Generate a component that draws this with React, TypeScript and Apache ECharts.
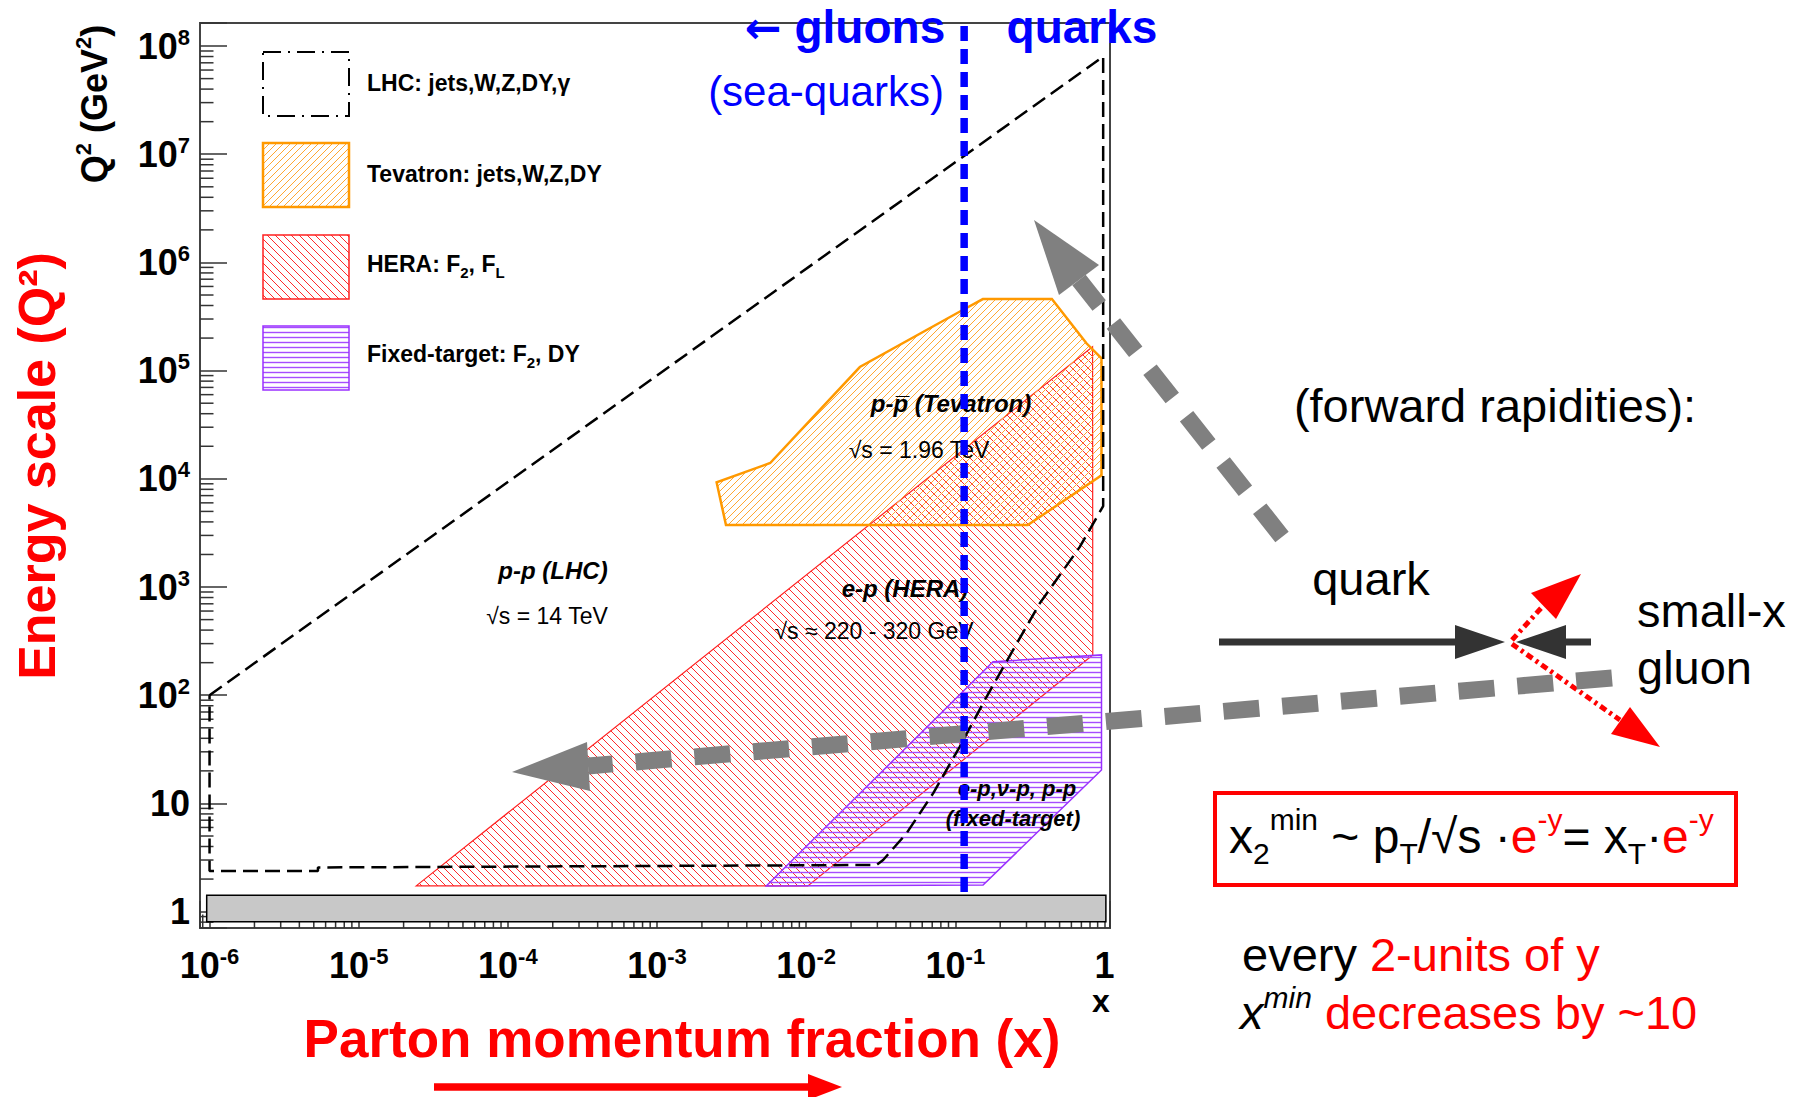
import React, { useEffect, useRef } from 'react';
import * as echarts from 'echarts';

const FONT = '"Liberation Sans", Arial, Helvetica, sans-serif';

// ---- axis extents (ROOT frame) ----
const X_MIN = 8.63e-7;
const X_MAX = 1.089;
const Q2_MIN = 0.706;
const Q2_MAX = 1.633e8;

// ---- kinematic regions (x, Q^2 in GeV^2) ----
const lhcX = [1e-6, 0.98, 0.98, 0.683, 0.368, 0.244, 0.162, 0.107, 0.071, 0.0471, 0.0328, 0.0296, 5.33e-6, 5.33e-6, 1e-6, 1e-6];
const lhcQ2 = [100, 8e7, 5600, 2350, 706, 262, 96.8, 33.4, 12.4, 5.3, 3.0, 2.7, 2.56, 2.37, 2.37, 100];

const tevX = [0.153, 0.444, 0.757, 0.955, 0.955, 0.306, 0.0029, 0.00251, 0.00574, 0.0229, 0.1067];
const tevQ2 = [4.59e5, 4.59e5, 1.79e5, 1.3e5, 1.08e4, 3740, 3740, 9270, 1.4e4, 1.08e5, 3.5e5];

const heraX = [2.43e-5, 0.832, 0.835, 0.01026];
const heraQ2 = [1.73, 1.66e5, 236, 1.73];

const ftX = [0.179, 0.955, 0.955, 0.1535, 0.0054];
const ftQ2 = [204, 236, 20.4, 1.76, 1.73];

const bandX = [9.57e-7, 1.022];
const bandQ2 = [0.807, 1.42];

const boundaryX = [0.1146, 0.1146];
const boundaryQ2 = [1.52, Q2_MAX];

// ---- minor tick positions (axis decoration) ----
const minorMultipliers = [2, 3, 4, 5, 6, 7, 8, 9];
const xDecades = [-7, -6, -5, -4, -3, -2, -1, 0];
const yDecades = [-1, 0, 1, 2, 3, 4, 5, 6, 7, 8];
const makeMinor = (decades: number[], lo: number, hi: number) => {
  const out: number[] = [];
  decades.forEach((d) => minorMultipliers.forEach((m) => {
    const v = Number((m * Math.pow(10, d)).toPrecision(3));
    if (v > lo && v < hi) out.push(v);
  }));
  return out;
};
const xMinorTicks = makeMinor(xDecades, X_MIN, X_MAX);
const yMinorTicks = makeMinor(yDecades, Q2_MIN, Q2_MAX);

function hatch(kind: 'fwd' | 'back' | 'horiz', color: string, size: number, lw: number) {
  const c = document.createElement('canvas');
  c.width = size;
  c.height = size;
  const g = c.getContext('2d')!;
  g.strokeStyle = color;
  g.lineWidth = lw;
  g.beginPath();
  if (kind === 'fwd') {
    g.moveTo(-1, size + 1); g.lineTo(size + 1, -1);
    g.moveTo(-1, 1); g.lineTo(1, -1);
    g.moveTo(size - 1, size + 1); g.lineTo(size + 1, size - 1);
  } else if (kind === 'back') {
    g.moveTo(-1, -1); g.lineTo(size + 1, size + 1);
    g.moveTo(size - 1, -1); g.lineTo(size + 1, 1);
    g.moveTo(-1, size - 1); g.lineTo(1, size + 1);
  } else {
    g.moveTo(0, size / 2); g.lineTo(size, size / 2);
  }
  g.stroke();
  return { image: c, repeat: 'repeat', imageWidth: size, imageHeight: size } as any;
}

const logLabel = (v: number) => {
  const lg = Math.log10(v);
  const e = Math.round(lg);
  if (Math.abs(lg - e) > 1e-3) return '';
  if (e === 0) return '{b|1}';
  if (e === 1) return '{b|10}';
  return '{b|10}{s|' + e + '}';
};

const tickRich = {
  b: { fontFamily: FONT, fontWeight: 'bold', fontSize: 36, lineHeight: 40, color: '#000' },
  s: { fontFamily: FONT, fontWeight: 'bold', fontSize: 22, lineHeight: 24, verticalAlign: 'top', color: '#000' },
};

function txt(x: number, y: number, text: string, o: any = {}) {
  const style: any = {
    text,
    x: 0,
    y: 0,
    fill: o.fill || '#000',
    fontFamily: o.family || FONT,
    fontSize: o.size || 23,
    fontWeight: o.weight || 'normal',
    fontStyle: o.italic ? 'italic' : 'normal',
    align: o.align || 'center',
    verticalAlign: o.va || 'middle',
    textAlign: o.align || 'center',
    textVerticalAlign: o.va || 'middle',
  };
  if (o.rich) style.rich = o.rich;
  return { type: 'text', x, y, rotation: o.rotation || 0, z: o.z || 100, style };
}

function arrowLine(x1: number, y1: number, x2: number, y2: number, stroke: string, lw: number, dash?: number[], z = 110) {
  return {
    type: 'line', z,
    shape: { x1, y1, x2, y2 },
    style: { stroke, lineWidth: lw, lineDash: dash || null, lineCap: 'butt' },
  };
}
function head(points: number[][], fill: string, z = 110) {
  return { type: 'polygon', z, shape: { points }, style: { fill, stroke: null } };
}

function buildOption() {
  const tevFill = hatch('fwd', '#ffa733', 7, 1);
  const heraFill = hatch('back', '#ff2a2a', 8, 1);
  const ftFill = hatch('horiz', '#a64dff', 5, 1.4);

  const poly = (xs: number[], ys: number[], fill: any, stroke: string, lw: number, z: number) => ({
    type: 'custom', silent: true, z,
    data: [[xs[0], ys[0]]],
    renderItem: (_p: any, api: any) => ({
      type: 'polygon',
      shape: { points: xs.map((x, i) => api.coord([x, ys[i]])) },
      style: { fill, stroke, lineWidth: lw },
    }),
  });

  const sub = (size: number, extra: any = {}) => ({ fontFamily: FONT, fontSize: size, lineHeight: Math.round(size * 0.8), verticalAlign: 'bottom', ...extra });
  const sup = (size: number, extra: any = {}) => ({ fontFamily: FONT, fontSize: size, lineHeight: Math.round(size * 1.0), verticalAlign: 'top', ...extra });

  const legendBold = { fontFamily: FONT, fontWeight: 'bold', fontSize: 23, lineHeight: 32, fill: '#000', color: '#000' };

  const graphic: any[] = [
    // legend
    { type: 'rect', z: 100, shape: { x: 263, y: 52, width: 86, height: 64 }, style: { fill: 'none', stroke: '#000', lineWidth: 2, lineDash: [18, 7, 2, 7] } },
    { type: 'rect', z: 100, shape: { x: 263, y: 143, width: 86, height: 64 }, style: { fill: tevFill, stroke: '#ff9900', lineWidth: 2.5 } },
    { type: 'rect', z: 100, shape: { x: 263, y: 235, width: 86, height: 64 }, style: { fill: heraFill, stroke: '#ff2020', lineWidth: 1.5 } },
    { type: 'rect', z: 100, shape: { x: 263, y: 326, width: 86, height: 64 }, style: { fill: ftFill, stroke: '#9a30ff', lineWidth: 1.5 } },
    txt(367, 83, 'LHC: jets,W,Z,DY,γ', { size: 23, weight: 'bold', align: 'left' }),
    txt(367, 174, 'Tevatron: jets,W,Z,DY', { size: 23, weight: 'bold', align: 'left' }),
    txt(367, 264, '{t|HERA: F}{s|2}{t|, F}{s|L}', { align: 'left', rich: { t: legendBold, s: { ...legendBold, fontSize: 15, lineHeight: 12, verticalAlign: 'bottom' } } }),
    txt(367, 354, '{t|Fixed-target: F}{s|2}{t|, DY}', { align: 'left', rich: { t: legendBold, s: { ...legendBold, fontSize: 15, lineHeight: 12, verticalAlign: 'bottom' } } }),

    // plot annotations
    txt(553, 570, 'p-p (LHC)', { size: 24, weight: 'bold', italic: true }),
    txt(547, 616, '√s = 14 TeV', { size: 23 }),
    txt(951, 403, 'p-p\u0305 (Tevatron)', { size: 24, weight: 'bold', italic: true }),
    txt(919, 450, '√s = 1.96 TeV', { size: 23 }),
    txt(905, 588, 'e-p (HERA)', { size: 24, weight: 'bold', italic: true }),
    txt(874, 631, '√s ≈ 220 - 320 GeV', { size: 23 }),
    txt(1017, 788, 'e-p,ν-p, p-p', { size: 22, weight: 'bold', italic: true }),
    txt(1013, 818, '(fixed-target)', { size: 22, weight: 'bold', italic: true }),

    // axis titles
    txt(94, 104, '{a|Q}{s|2}{a| (GeV}{s|2}{a|)}', {
      rotation: Math.PI / 2,
      rich: {
        a: { fontFamily: FONT, fontWeight: 'bold', fontSize: 36, lineHeight: 44, fill: '#000' },
        s: { fontFamily: FONT, fontWeight: 'bold', fontSize: 22, lineHeight: 24, verticalAlign: 'top', fill: '#000' },
      },
    }),
    txt(1101, 1001, 'x', { size: 32, weight: 'bold' }),
    txt(37, 466, 'Energy scale (Q²)', { size: 52, weight: 'bold', fill: '#ff0000', rotation: Math.PI / 2 }),
    txt(682, 1038, 'Parton momentum fraction (x)', { size: 53, weight: 'bold', fill: '#ff0000' }),

    // gluons / quarks header
    txt(845, 27, '{a|←}{t| gluons}', {
      rich: {
        a: { fontFamily: '"DejaVu Sans", sans-serif', fontWeight: 'bold', fontSize: 44, lineHeight: 50, fill: '#0000ff' },
        t: { fontFamily: FONT, fontWeight: 'bold', fontSize: 46, lineHeight: 50, fill: '#0000ff' },
      },
    }),
    txt(1082, 27, 'quarks', { size: 46, weight: 'bold', fill: '#0000ff' }),
    txt(826, 91, '(sea-quarks)', { size: 42, fill: '#0000ff' }),

    // right-hand slide text
    txt(1495, 405, '(forward rapidities):', { size: 47 }),
    txt(1371, 578, 'quark', { size: 47 }),
    txt(1637, 610, 'small-x', { size: 47, align: 'left' }),
    txt(1637, 667, 'gluon', { size: 47, align: 'left' }),
    { type: 'rect', z: 100, shape: { x: 1215, y: 793, width: 521, height: 92 }, style: { fill: 'none', stroke: '#ff0000', lineWidth: 4 } },
    txt(1229, 836, '{n|x}{sb|2}{sp|min}{n| ~ p}{sb|T}{n|/√s ·}{r|e}{rs|-y}{n|= x}{sb|T}{n|·}{r|e}{rs|-y}', {
      align: 'left',
      rich: {
        n: { fontFamily: FONT, fontSize: 48, lineHeight: 64, fill: '#000' },
        r: { fontFamily: FONT, fontSize: 48, lineHeight: 64, fill: '#ff0000' },
        sb: sub(30, { fill: '#000' }),
        sp: sup(30, { fill: '#000', lineHeight: 34 }),
        rs: sup(30, { fill: '#ff0000', lineHeight: 34 }),
      },
    }),
    txt(1242, 954, '{k|every }{r|2-units of y}', {
      align: 'left',
      rich: {
        k: { fontFamily: FONT, fontSize: 47, fill: '#000' },
        r: { fontFamily: FONT, fontSize: 47, fill: '#ff0000' },
      },
    }),
    txt(1240, 1012, '{i|x}{is|min}{r| decreases by ~10}', {
      align: 'left',
      rich: {
        i: { fontFamily: FONT, fontSize: 47, lineHeight: 60, fontStyle: 'italic', fill: '#000' },
        is: sup(30, { fontStyle: 'italic', fill: '#000', lineHeight: 36 }),
        r: { fontFamily: FONT, fontSize: 47, lineHeight: 60, fill: '#ff0000' },
      },
    }),

    // thick grey dashed arrows
    arrowLine(1282, 537, 1079, 280, '#808080', 17, [36, 23], 120),
    head([[1034, 220], [1099, 265], [1059, 295]], '#808080', 120),
    arrowLine(1612, 678, 588, 766, '#808080', 17, [36, 23], 120),
    head([[512, 772], [587, 742], [590, 791]], '#808080', 120),

    // quark / gluon arrows
    arrowLine(1219, 642, 1458, 642, '#333333', 7),
    head([[1455, 625], [1505, 642], [1455, 659]], '#333333'),
    arrowLine(1591, 642, 1563, 642, '#333333', 7),
    head([[1566, 625], [1516, 642], [1566, 659]], '#333333'),

    // red dotted outgoing arrows
    arrowLine(1512, 640, 1543, 606, '#ff0000', 5, [7, 4, 3, 4]),
    head([[1581, 574], [1531, 593], [1556, 619]], '#ff0000'),
    arrowLine(1512, 644, 1620, 720, '#ff0000', 5, [7, 4, 3, 4]),
    head([[1660, 747], [1611, 734], [1630, 707]], '#ff0000'),

    // red arrow below x title
    arrowLine(434, 1087, 812, 1087, '#ff0000', 7.5),
    head([[808, 1074], [842, 1087], [808, 1100]], '#ff0000'),
  ];

  return {
    animation: false,
    backgroundColor: '#ffffff',
    grid: { left: 200, right: 696, top: 23, bottom: 169, show: true, borderColor: '#444', borderWidth: 2, containLabel: false, outerBoundsMode: 'none' },
    xAxis: {
      type: 'log', logBase: 10, min: X_MIN, max: X_MAX, splitNumber: 6,
      axisLine: { show: true, lineStyle: { color: '#444', width: 2 } },
      axisTick: { show: true, inside: true, length: 27, lineStyle: { color: '#333', width: 1.5 } },
      minorTick: { show: false },
      splitLine: { show: false },
      axisLabel: { margin: 17, formatter: (v: number) => logLabel(v), rich: tickRich },
    },
    yAxis: {
      type: 'log', logBase: 10, min: Q2_MIN, max: Q2_MAX, splitNumber: 8,
      axisLine: { show: true, lineStyle: { color: '#444', width: 2 } },
      axisTick: { show: true, inside: true, length: 27, lineStyle: { color: '#333', width: 1.5 } },
      minorTick: { show: false },
      splitLine: { show: false },
      axisLabel: { margin: 10, formatter: (v: number) => logLabel(v), rich: tickRich },
    },
    graphic,
    series: [
      {
        type: 'custom', silent: true, z: 3,
        data: xMinorTicks.map((v) => [v, Q2_MIN]),
        renderItem: (_p: any, api: any) => {
          const pt = api.coord([api.value(0), Q2_MIN]);
          return { type: 'line', shape: { x1: pt[0], y1: pt[1], x2: pt[0], y2: pt[1] - 13.5 }, style: { stroke: '#333', lineWidth: 1.5 } };
        },
      },
      {
        type: 'custom', silent: true, z: 3,
        data: yMinorTicks.map((v) => [X_MIN, v]),
        renderItem: (_p: any, api: any) => {
          const pt = api.coord([X_MIN, api.value(1)]);
          return { type: 'line', shape: { x1: pt[0], y1: pt[1], x2: pt[0] + 13.5, y2: pt[1] }, style: { stroke: '#333', lineWidth: 1.5 } };
        },
      },
      poly(heraX, heraQ2, heraFill, '#ff2020', 1.2, 4),
      poly(tevX, tevQ2, tevFill, '#ff9900', 2.5, 5),
      poly(ftX, ftQ2, ftFill, '#9a30ff', 1.5, 6),
      {
        type: 'line', silent: true, z: 7, symbol: 'none',
        data: lhcX.map((x, i) => [x, lhcQ2[i]]),
        lineStyle: { color: '#000', width: 2.5, type: [15, 7] },
      },
      {
        type: 'custom', silent: true, z: 8,
        data: [[bandX[0], bandQ2[0]]],
        renderItem: (_p: any, api: any) => {
          const a = api.coord([bandX[0], bandQ2[1]]);
          const b = api.coord([bandX[1], bandQ2[0]]);
          return { type: 'rect', shape: { x: a[0], y: a[1], width: b[0] - a[0], height: b[1] - a[1] }, style: { fill: '#c8c8c8', stroke: '#000', lineWidth: 1.5 } };
        },
      },
      {
        type: 'line', silent: true, z: 150, symbol: 'none',
        data: boundaryX.map((x, i) => [x, boundaryQ2[i]]),
        lineStyle: { color: '#0000ff', width: 7.5, type: [15, 8] },
      },
    ],
  };
}

export default function App() {
  const ref = useRef<HTMLDivElement>(null);
  useEffect(() => {
    const chart = echarts.init(ref.current!, null, { renderer: 'svg' });
    chart.setOption(buildOption() as any);
    return () => chart.dispose();
  }, []);
  return (
    <div
      ref={ref}
      style={{ position: 'fixed', left: 0, top: 0, width: 1806, height: 1097, background: '#fff' }}
    />
  );
}
